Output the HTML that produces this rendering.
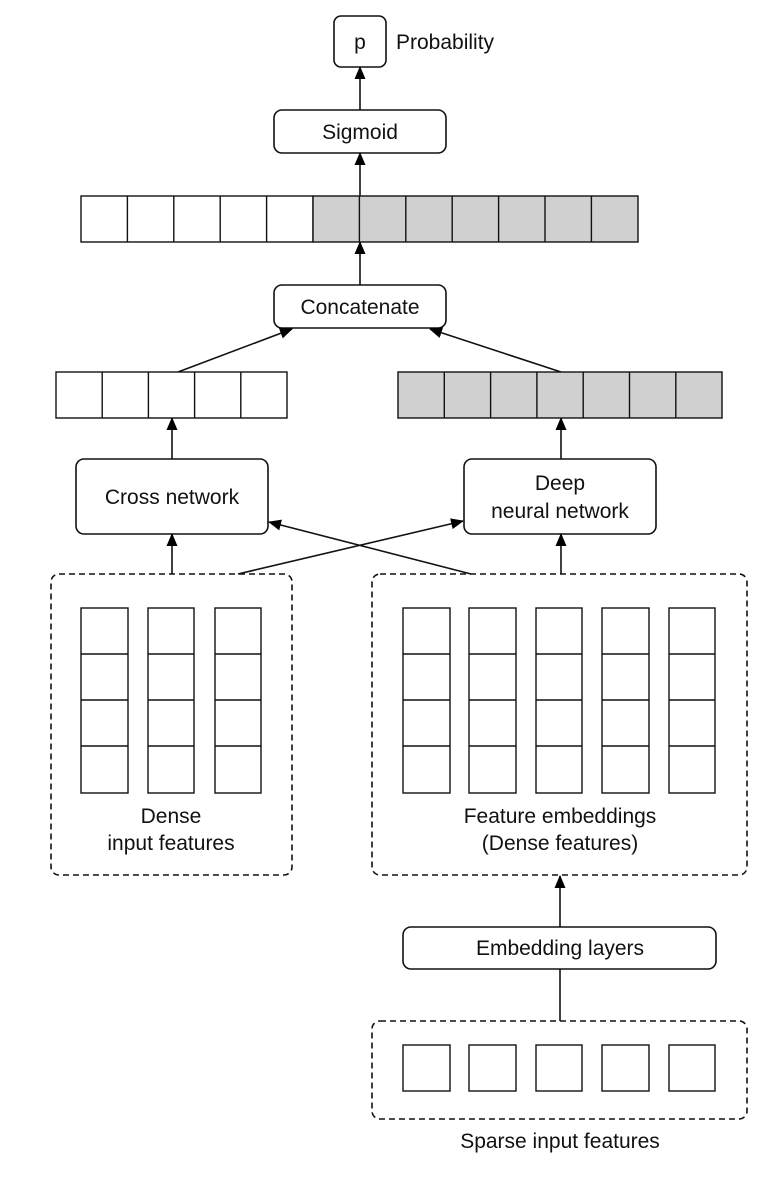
<!DOCTYPE html>
<html><head><style>
html,body{margin:0;padding:0;background:#fff;}
svg text{font-family:"Liberation Sans",sans-serif;font-size:21px;fill:#111;}
</style></head><body>
<svg width="782" height="1178" viewBox="0 0 782 1178" xmlns="http://www.w3.org/2000/svg">
<defs>
<marker id="a" markerWidth="13" markerHeight="11" refX="12" refY="5.5" orient="auto" markerUnits="userSpaceOnUse">
<path d="M0,0 L13,5.5 L0,11 z" fill="#000"/>
</marker>
</defs>
<g stroke="#111" stroke-width="1.6" fill="none">
<rect x="334" y="16" width="52" height="51" rx="7" fill="#fff"/>
<rect x="274" y="110" width="172" height="43" rx="8" fill="#fff"/>
<rect x="274" y="285" width="172" height="43" rx="8" fill="#fff"/>
<rect x="76" y="459" width="192" height="75" rx="8" fill="#fff"/>
<rect x="464" y="459" width="192" height="75" rx="8" fill="#fff"/>
<rect x="403" y="927" width="313" height="42" rx="8" fill="#fff"/>
<g stroke-dasharray="6,4">
<rect x="51" y="574" width="241" height="301" rx="8"/>
<rect x="372" y="574" width="375" height="301" rx="8"/>
<rect x="372" y="1021" width="375" height="98" rx="8"/>
</g>
<line x1="360" y1="110" x2="360" y2="67" marker-end="url(#a)"/>
<line x1="360" y1="196" x2="360" y2="153" marker-end="url(#a)"/>
<line x1="360" y1="285" x2="360" y2="242" marker-end="url(#a)"/>
<line x1="178" y1="372" x2="292" y2="329" marker-end="url(#a)"/>
<line x1="561" y1="372" x2="430" y2="329" marker-end="url(#a)"/>
<line x1="172" y1="459" x2="172" y2="418" marker-end="url(#a)"/>
<line x1="561" y1="459" x2="561" y2="418" marker-end="url(#a)"/>
<line x1="172" y1="574" x2="172" y2="534" marker-end="url(#a)"/>
<line x1="561" y1="574" x2="561" y2="534" marker-end="url(#a)"/>
<line x1="238" y1="574" x2="463" y2="521" marker-end="url(#a)"/>
<line x1="471" y1="574" x2="269" y2="522" marker-end="url(#a)"/>
<line x1="560" y1="927" x2="560" y2="876" marker-end="url(#a)"/>
<line x1="560" y1="969" x2="560" y2="1021"/>
</g>
<g stroke="#111" stroke-width="1.4">
<rect x="81" y="196" width="232" height="46" fill="#fff"/>
<rect x="313" y="196" width="325" height="46" fill="#d0d0d0"/>
<path d="M127.4,196v46M173.8,196v46M220.2,196v46M266.6,196v46M359.4,196v46M405.8,196v46M452.2,196v46M498.6,196v46M545,196v46M591.4,196v46"/>
<rect x="56" y="372" width="231" height="46" fill="#fff"/>
<path d="M102.2,372v46M148.4,372v46M194.6,372v46M240.8,372v46"/>
<rect x="398" y="372" width="324" height="46" fill="#d0d0d0"/>
<path d="M444.3,372v46M490.6,372v46M536.9,372v46M583.2,372v46M629.5,372v46M675.8,372v46"/>
<g fill="#fff">
<rect x="81" y="608" width="47" height="185"/><rect x="148" y="608" width="46" height="185"/><rect x="215" y="608" width="46" height="185"/>
<rect x="403" y="608" width="47" height="185"/><rect x="469" y="608" width="47" height="185"/><rect x="536" y="608" width="46" height="185"/><rect x="602" y="608" width="47" height="185"/><rect x="669" y="608" width="46" height="185"/>
<rect x="403" y="1045" width="47" height="46"/><rect x="469" y="1045" width="47" height="46"/><rect x="536" y="1045" width="46" height="46"/><rect x="602" y="1045" width="47" height="46"/><rect x="669" y="1045" width="46" height="46"/>
</g>
<path fill="none" d="
M81,654h47M81,700h47M81,746h47
M148,654h46M148,700h46M148,746h46
M215,654h46M215,700h46M215,746h46
M403,654h47M403,700h47M403,746h47
M469,654h47M469,700h47M469,746h47
M536,654h46M536,700h46M536,746h46
M602,654h47M602,700h47M602,746h47
M669,654h46M669,700h46M669,746h46"/>
</g>
<g text-anchor="middle">
<text x="360" y="49">p</text>
<text x="360" y="139">Sigmoid</text>
<text x="360" y="314">Concatenate</text>
<text x="172" y="504">Cross network</text>
<text x="560" y="490">Deep</text>
<text x="560" y="518">neural network</text>
<text x="171" y="823">Dense</text>
<text x="171" y="850">input features</text>
<text x="560" y="823">Feature embeddings</text>
<text x="560" y="850">(Dense features)</text>
<text x="560" y="955">Embedding layers</text>
<text x="560" y="1148">Sparse input features</text>
</g>
<text x="396" y="49">Probability</text>
</svg>
</body></html>
